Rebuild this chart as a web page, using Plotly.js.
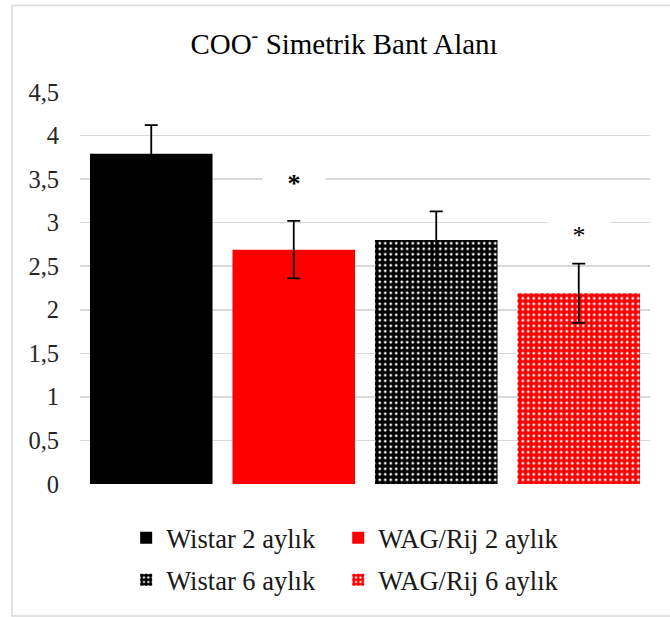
<!DOCTYPE html>
<html>
<head>
<meta charset="utf-8">
<script src="https://cdn.plot.ly/plotly-3.0.1.min.js"></script>
<style>
html,body{margin:0;padding:0;background:#fff;}
#chart{width:670px;height:617px;}
</style>
</head>
<body>
<div id="chart"></div>
<script>
var categories = ["Wistar 2 aylık", "WAG/Rij 2 aylık", "Wistar 6 aylık", "WAG/Rij 6 aylık"];
var values = [3.79, 2.69, 2.80, 2.19];
var errors = [0.33, 0.33, 0.33, 0.34];
var yTickVals = [0, 0.5, 1, 1.5, 2, 2.5, 3, 3.5, 4, 4.5];
var yTickText = ["0", "0,5", "1", "1,5", "2", "2,5", "3", "3,5", "4", "4,5"];
var titleText = "COO<sup>-</sup> Simetrik Bant Alanı";
var starPositions = [1, 3];
var starValues = [3.45, 2.86];

var FONT = "'Liberation Serif', 'Times New Roman', serif";
var colors = ["#000000", "#ff0000", "#000000", "#ff0000"];
var patterned = [false, false, true, true];
var legendIds = ["legend", "legend2", "legend3", "legend4"];
var legendX = [0.081, 0.453, 0.081, 0.453];
var legendY = [-0.1378, -0.1378, -0.245, -0.245];

var traces = categories.map(function (name, i) {
  var marker = { color: colors[i], line: { width: 0 } };
  if (patterned[i]) {
    marker.pattern = { shape: ".", fgcolor: "#ffffff", bgcolor: colors[i], size: 5.5, solidity: 0.2, fillmode: "replace" };
  }
  return {
    type: "bar",
    name: name,
    x: [i],
    y: [values[i]],
    width: 0.86,
    marker: marker,
    error_y: { type: "data", array: [errors[i]], visible: true, color: "#000000", thickness: 1.8, width: 6.5 },
    legend: legendIds[i],
    hoverinfo: "skip"
  };
});

var annotations = starPositions.map(function (p, k) {
  return {
    x: p, y: starValues[k], xref: "x", yref: "y",
    text: k === 0 ? "<b>*</b>" : "*",
    showarrow: false,
    font: { family: FONT, size: 26, color: "#000000" },
    bgcolor: "#ffffff",
    width: 60, height: 26,
    xanchor: "center", yanchor: "middle"
  };
});

function makeLegend(i) {
  return {
    orientation: "h",
    font: { family: FONT, size: 26.5, color: "#1a1a1a" },
    xref: "paper", yref: "paper",
    xanchor: "left", yanchor: "middle",
    x: legendX[i], y: legendY[i],
    bgcolor: "rgba(0,0,0,0)"
  };
}

var layout = {
  width: 670, height: 617,
  margin: { l: 80, r: 20, t: 92, b: 133 },
  paper_bgcolor: "#ffffff",
  plot_bgcolor: "#ffffff",
  title: {
    text: titleText,
    font: { family: FONT, size: 29, color: "#000000" },
    x: 344 / 670, xref: "container", xanchor: "center",
    y: 1 - 44 / 617, yref: "container", yanchor: "middle"
  },
  barmode: "overlay",
  xaxis: {
    range: [-0.5, 3.5],
    showticklabels: false,
    showgrid: false, zeroline: false, showline: false, ticks: "",
    fixedrange: true
  },
  yaxis: {
    range: [0, 4.5],
    tickvals: yTickVals, ticktext: yTickText,
    tickfont: { family: FONT, size: 24.5, color: "#262626" },
    showgrid: true, gridcolor: "#d9d9d9", gridwidth: 1.5,
    zeroline: false, showline: false, ticks: "",
    ticklabelstandoff: 20,
    fixedrange: true
  },
  legend: makeLegend(0),
  legend2: makeLegend(1),
  legend3: makeLegend(2),
  legend4: makeLegend(3),
  annotations: annotations,
  shapes: [{
    type: "rect", xref: "paper", yref: "paper",
    x0: (12 - 80) / 570, x1: (672 - 80) / 570,
    y0: (484 - 616) / 392, y1: (484 - 5.5) / 392,
    line: { color: "#d9d9d9", width: 1.5 },
    fillcolor: "rgba(0,0,0,0)",
    layer: "below"
  }],
  showlegend: true
};

Plotly.newPlot("chart", traces, layout, { displayModeBar: false, staticPlot: true });
</script>
</body>
</html>
